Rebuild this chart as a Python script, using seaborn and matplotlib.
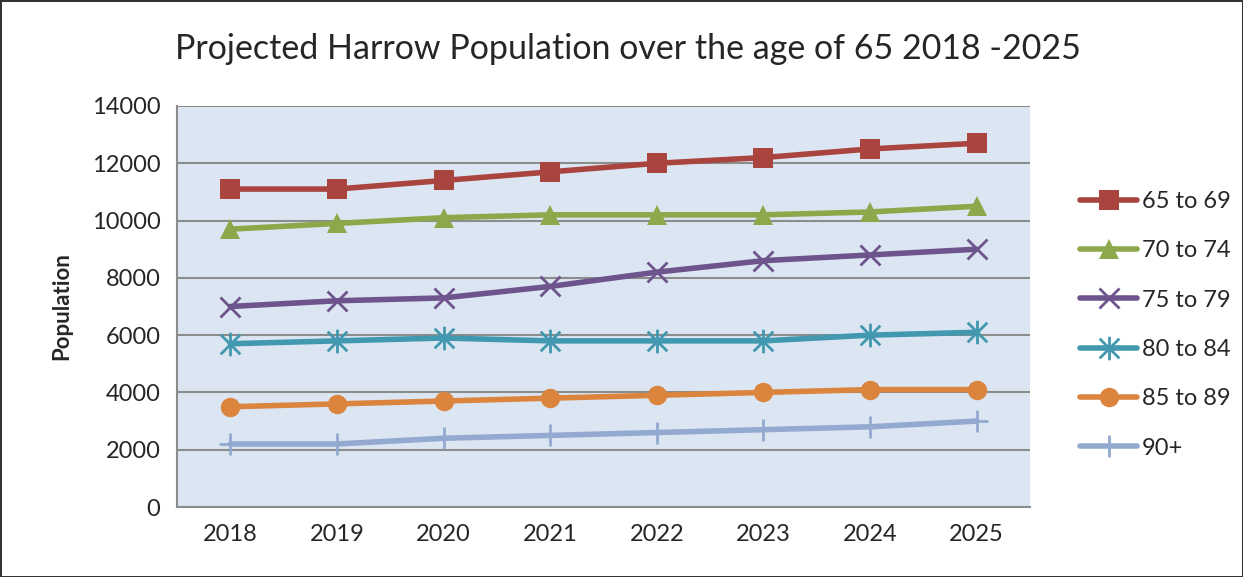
import matplotlib
matplotlib.use('Agg')
import matplotlib.pyplot as plt
from matplotlib.path import Path
import seaborn as sns
import pandas as pd

years = [2018, 2019, 2020, 2021, 2022, 2023, 2024, 2025]
age_65_69 = [11100, 11100, 11400, 11700, 12000, 12200, 12500, 12700]
age_70_74 = [9700, 9900, 10100, 10200, 10200, 10200, 10300, 10500]
age_75_79 = [7000, 7200, 7300, 7700, 8200, 8600, 8800, 9000]
age_80_84 = [5700, 5800, 5900, 5800, 5800, 5800, 6000, 6100]
age_85_89 = [3500, 3600, 3700, 3800, 3900, 4000, 4100, 4100]
age_90_plus = [2200, 2200, 2400, 2500, 2600, 2700, 2800, 3000]
labels = ['65 to 69', '70 to 74', '75 to 79', '80 to 84', '85 to 89', '90+']

# excel style asterisk: an x with a vertical bar through it
asterisk = Path([(-1, -1), (1, 1), (-1, 1), (1, -1), (0, -1.2), (0, 1.2)],
                [Path.MOVETO, Path.LINETO, Path.MOVETO, Path.LINETO, Path.MOVETO, Path.LINETO])

series = [age_65_69, age_70_74, age_75_79, age_80_84, age_85_89, age_90_plus]
colors = ['#A9443F', '#8DA74B', '#6E548C', '#4198AF', '#DB843D', '#93A9CF']
markers = ['s', '^', 'x', asterisk, 'o', '+']
msizes = [14, 14, 14, 17, 14, 16]
line_markers = ['x', '+']

sns.set_style('white')
plt.rcParams['font.family'] = ['Lato', 'DejaVu Sans']

fig = plt.figure(figsize=(12.43, 5.77), dpi=100)
fig.patch.set_edgecolor('#333333')
fig.patch.set_linewidth(2)
ax = fig.add_axes([0.1424, 0.1213, 0.6862, 0.695])
ax.set_facecolor('#DCE6F2')

for vals, lab, col, mk, ms in zip(series, labels, colors, markers, msizes):
    df = pd.DataFrame({'Year': years, 'Population': vals})
    unfilled = isinstance(mk, Path) or mk in line_markers
    sns.lineplot(data=df, x='Year', y='Population', ax=ax, color=col, linewidth=4,
                 marker=mk, markersize=ms, markeredgewidth=2 if unfilled else 0,
                 markeredgecolor=col, label=lab)

ax.set_xlim(2017.5, 2025.5)
ax.set_ylim(0, 14000)
ax.set_xticks(years)
ax.set_yticks(range(0, 14001, 2000))
ax.grid(axis='y', color='#8C8C8C', linewidth=1.5)
ax.set_axisbelow(True)
ax.tick_params(axis='both', length=0, labelsize=17, pad=12)
ax.set_xlabel('')
ax.set_ylabel('Population', fontsize=16, fontweight='bold', labelpad=14)
for s in ['top', 'right']:
    ax.spines[s].set_visible(False)
for s in ['left', 'bottom']:
    ax.spines[s].set_color('#8C8C8C')
    ax.spines[s].set_linewidth(1.5)

ax.legend(loc='center left', bbox_to_anchor=(0.852, 0.437), bbox_transform=fig.transFigure,
          frameon=False, fontsize=17, labelspacing=1.2, handlelength=2.4, handletextpad=0.2)

fig.text(0.505, 0.915, 'Projected Harrow Population over the age of 65 2018 -2025',
         ha='center', va='center', fontsize=24.5)

fig.savefig('out.png', dpi=100)
